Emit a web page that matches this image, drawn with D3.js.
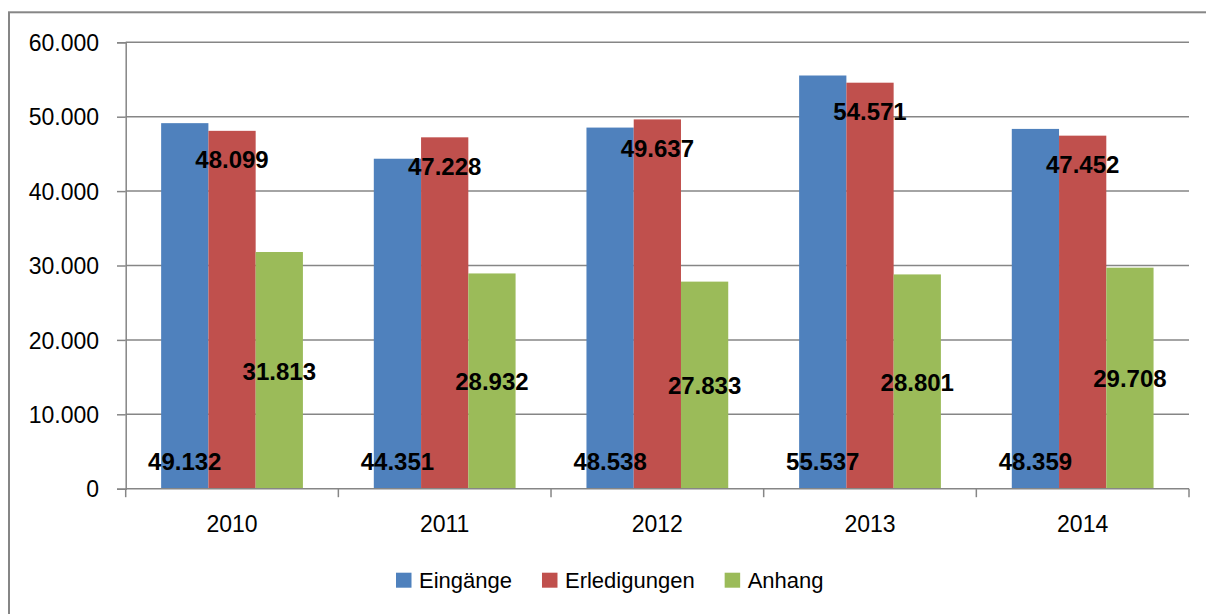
<!DOCTYPE html>
<html>
<head>
<meta charset="utf-8">
<script src="https://cdn.jsdelivr.net/npm/d3@7"></script>
<style>
  body { margin: 0; background: #fff; }
  text { font-family: "Liberation Sans", Arial, sans-serif; }
</style>
</head>
<body>
<div id="chart"></div>
<script>
var width = 1206;
var height = 614;

// data
var years = ["2010", "2011", "2012", "2013", "2014"];
var seriesNames = ["Eingänge", "Erledigungen", "Anhang"];
var eingaenge = [49132, 44351, 48538, 55537, 48359];
var erledigungen = [48099, 47228, 49637, 54571, 47452];
var anhang = [31813, 28932, 27833, 28801, 29708];
var yTicks = [0, 10000, 20000, 30000, 40000, 50000, 60000];
var colors = ["#4F81BD", "#C0504D", "#9BBB59"];
var values = [eingaenge, erledigungen, anhang];

// plot box (window.top is reserved, so use own names)
var plotLeft = 125.7, plotRight = 1189, plotTop = 42.3, plotBottom = 488.7;
var gridColor = "#868686";

var de = d3.formatLocale({ decimal: ",", thousands: ".", grouping: [3], currency: ["", "€"] });
var fmt = de.format(",");

var svg = d3.select("#chart").append("svg")
  .attr("width", width)
  .attr("height", height);

// outer chart frame (right and bottom edges fall outside the picture)
svg.append("rect")
  .attr("x", 9).attr("y", 12.3)
  .attr("width", 1240).attr("height", 640)
  .attr("fill", "#fff")
  .attr("stroke", gridColor)
  .attr("stroke-width", 2);

var x0 = d3.scaleBand().domain(years).range([plotLeft, plotRight]);
var x1 = d3.scaleBand().domain(seriesNames).range([0, x0.bandwidth()]).paddingOuter(0.75);
var y = d3.scaleLinear().domain([0, 60000]).range([plotBottom, plotTop]);

// gridlines
svg.append("g")
  .selectAll("line")
  .data(yTicks.filter(function (d) { return d > 0; }))
  .join("line")
  .attr("x1", plotLeft).attr("x2", plotRight)
  .attr("y1", function (d) { return y(d); })
  .attr("y2", function (d) { return y(d); })
  .attr("stroke", gridColor)
  .attr("stroke-width", 1.5);

// y axis
var yAxis = svg.append("g")
  .attr("transform", "translate(" + plotLeft + ",0)")
  .call(d3.axisLeft(y).tickValues(yTicks).tickFormat(fmt).tickSize(8.7).tickPadding(18));
yAxis.select(".domain").attr("stroke", gridColor).attr("stroke-width", 1.5);
yAxis.selectAll(".tick line").attr("stroke", gridColor).attr("stroke-width", 1.5);
yAxis.selectAll(".tick text")
  .attr("font-size", 23)
  .attr("fill", "#000")
  .attr("font-family", "Liberation Sans, Arial, sans-serif")
  .attr("dy", "0.36em");

// bars
var rows = [];
years.forEach(function (yr, i) {
  seriesNames.forEach(function (s, j) {
    rows.push({ year: yr, series: s, value: values[j][i], idx: j });
  });
});

svg.append("g")
  .selectAll("rect")
  .data(rows)
  .join("rect")
  .attr("x", function (d) { return x0(d.year) + x1(d.series); })
  .attr("y", function (d) { return y(d.value); })
  .attr("width", x1.bandwidth())
  .attr("height", function (d) { return y(0) - y(d.value); })
  .attr("fill", function (d) { return colors[d.idx]; });

// x axis
var xAxis = svg.append("g").attr("transform", "translate(0," + plotBottom + ")");
xAxis.append("line")
  .attr("x1", plotLeft).attr("x2", plotRight)
  .attr("stroke", gridColor).attr("stroke-width", 1.5);
xAxis.selectAll(".xtick")
  .data(years.concat(["end"]))
  .join("line")
  .attr("class", "xtick")
  .attr("x1", function (d, i) { return i < years.length ? x0(d) : plotRight; })
  .attr("x2", function (d, i) { return i < years.length ? x0(d) : plotRight; })
  .attr("y1", 0).attr("y2", 8.5)
  .attr("stroke", gridColor).attr("stroke-width", 1.5);
xAxis.selectAll(".xlabel")
  .data(years)
  .join("text")
  .attr("class", "xlabel")
  .attr("x", function (d) { return x0(d) + x0.bandwidth() / 2; })
  .attr("y", 43)
  .attr("text-anchor", "middle")
  .attr("font-size", 23)
  .text(function (d) { return d; });

// data labels (Excel style: inside base / inside end / centre)
svg.append("g")
  .selectAll("text")
  .data(rows)
  .join("text")
  .attr("x", function (d) { return x0(d.year) + x1(d.series) + x1.bandwidth() / 2; })
  .attr("y", function (d) {
    if (d.idx === 0) return y(0) - 19;
    if (d.idx === 1) return y(d.value) + 37.5;
    return (y(d.value) + y(0)) / 2 + 9.3;
  })
  .attr("text-anchor", "middle")
  .attr("font-size", 24)
  .attr("font-weight", "bold")
  .attr("fill", "#000")
  .text(function (d) { return fmt(d.value); });

// legend
var legend = svg.append("g").attr("transform", "translate(396,0)");
var lx = 0;
seriesNames.forEach(function (s, i) {
  var item = legend.append("g").attr("transform", "translate(" + lx + ",0)");
  item.append("rect")
    .attr("x", 0).attr("y", 572.7)
    .attr("width", 15.5).attr("height", 15)
    .attr("fill", colors[i]);
  var t = item.append("text")
    .attr("x", 23).attr("y", 587.5)
    .attr("font-size", 22)
    .text(s);
  lx += 23 + t.node().getComputedTextLength() + 30;
});
</script>
</body>
</html>
